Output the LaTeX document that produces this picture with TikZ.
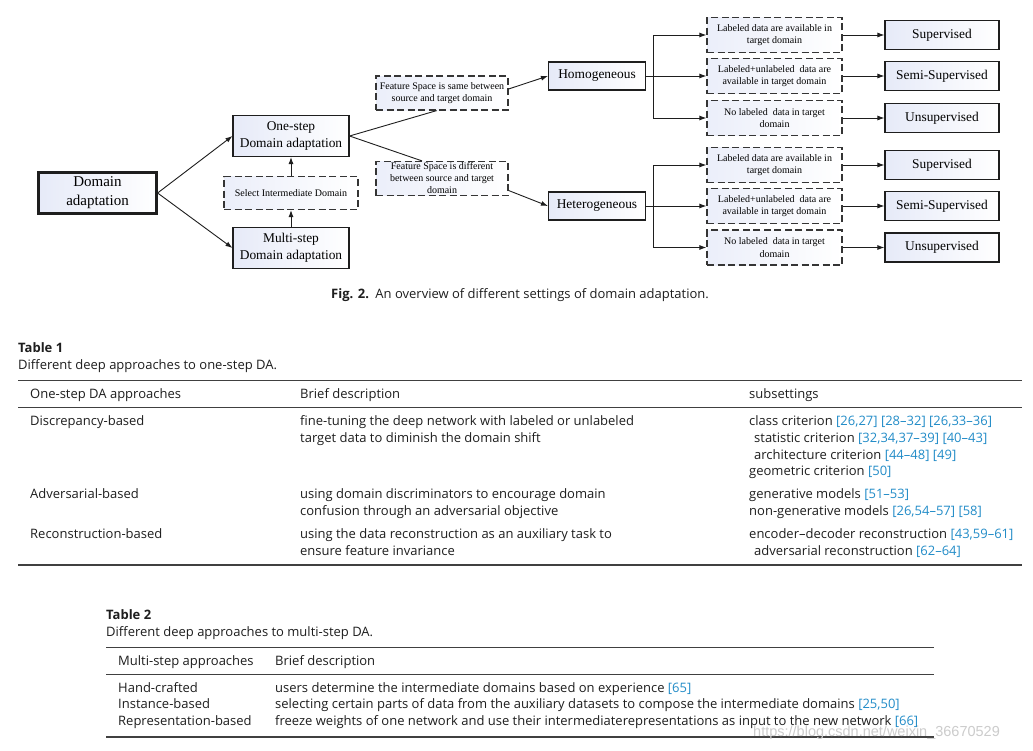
\documentclass[tikz,border=0pt]{standalone}
\usepackage{fontspec}
\setmainfont{Liberation Serif}
\newfontfamily\tabfont{Open Sans}
\newfontfamily\wmfont{Liberation Sans}
\usetikzlibrary{arrows.meta,calc}
\definecolor{citec}{RGB}{34,140,200}
\definecolor{boxl}{RGB}{230,234,248}
\definecolor{ink}{RGB}{30,30,30}
\newcommand{\cit}[1]{{\color{citec}#1}}
\newcommand{\tline}[4]{\node[tt] (#1) at (#2,#3+4.5) {#4};}
\begin{document}
\begin{tikzpicture}[x=1pt,y=-1pt,
  sbox/.style={draw=ink, line width=1.1pt, left color=boxl, right color=white, align=center,
    font=\fontsize{13.4}{16.5}\selectfont, inner sep=0pt},
  dbox/.style={draw=ink!90, line width=1.2pt, dash pattern=on 7pt off 3.5pt, left color=boxl!80, right color=white,
    align=center, font=\fontsize{10}{12.3}\selectfont, inner sep=0pt},
  arr/.style={-{Latex[length=7pt,width=5pt]}, line width=0.9pt, draw=ink},
  ln/.style={line width=0.9pt, draw=ink},
  tt/.style={anchor=base west, inner sep=0pt, text=ink, font=\tabfont\fontsize{13}{15}\selectfont},
  rule/.style={draw=ink!85, line width=1pt}]
\fill[white] (0,0) rectangle (1033,750);
\useasboundingbox (0,0) rectangle (1033,750);

% ---------- diagram ----------
\node[sbox, line width=2.2pt, minimum width=118, minimum height=41, font=\fontsize{15}{19}\selectfont] (da) at (97.5,193) {Domain\\adaptation};
\node[sbox, minimum width=116, minimum height=41] (one) at (291,136) {One-step\\Domain adaptation};
\node[dbox, minimum width=134, minimum height=33] (sel) at (291,193) {Select Intermediate Domain};
\node[sbox, minimum width=116, minimum height=41] (multi) at (291,248) {Multi-step\\Domain adaptation};

\node[dbox, minimum width=132, minimum height=34] (fs) at (442,93) {Feature Space is same between\\source and target domain};
\node[dbox, minimum width=132, minimum height=34, font=\fontsize{10}{12}\selectfont] (fd) at (442,178.5) {Feature Space is different\\between source and target\\domain};

\node[sbox, minimum width=97, minimum height=28] (homo) at (597,76) {Homogeneous};
\node[sbox, minimum width=97, minimum height=28] (hetero) at (597,206) {Heterogeneous};

\node[dbox, minimum width=135, minimum height=35] (h1) at (774.5,35) {Labeled data are available in\\target domain};
\node[dbox, minimum width=135, minimum height=35] (h2) at (774.5,76) {Labeled+unlabeled\ \ data are\\available in target domain};
\node[dbox, minimum width=135, minimum height=35] (h3) at (774.5,118) {No labeled\ \ data in target\\domain};
\node[dbox, minimum width=135, minimum height=35] (e1) at (774.5,165) {Labeled data are available in\\target domain};
\node[dbox, minimum width=135, minimum height=35] (e2) at (774.5,206) {Labeled+unlabeled\ \ data are\\available in target domain};
\node[dbox, minimum width=135, minimum height=35] (e3) at (774.5,247.5) {No labeled\ \ data in target\\domain};

\node[sbox, minimum width=114, minimum height=29] (r1) at (942,35) {Supervised};
\node[sbox, minimum width=114, minimum height=29] (r2) at (942,76) {Semi-Supervised};
\node[sbox, minimum width=114, minimum height=29] (r3) at (942,118) {Unsupervised};
\node[sbox, minimum width=114, minimum height=29] (s1) at (942,165) {Supervised};
\node[sbox, minimum width=114, minimum height=29] (s2) at (942,206) {Semi-Supervised};
\node[sbox, minimum width=114, minimum height=29] (s3) at (942,247.5) {Unsupervised};

\draw[arr] (da.east) -- (one.west);
\draw[arr] (da.east) -- (multi.west);
\draw[arr] (multi) -- (sel);
\draw[arr] (sel) -- (one);
\draw[ln] (one.east) -- ($(fs.south west)!0.46!(fs.south east)$);
\draw[ln] (one.east) -- ($(fd.north west)!0.35!(fd.north east)$);
\draw[arr] ([yshift=4pt]fs.east) -- (homo.west);
\draw[arr] ([yshift=-12pt]fd.east) -- (hetero.west);

\coordinate (hj) at (653,76);
\coordinate (ej) at (653,206);
\draw[ln] (homo.east) -- (hj);
\draw[arr] (hj) |- (h1.west);
\draw[arr] (hj) -- (h2.west);
\draw[arr] (hj) |- (h3.west);
\draw[ln] (hetero.east) -- (ej);
\draw[arr] (ej) |- (e1.west);
\draw[arr] (ej) -- (e2.west);
\draw[arr] (ej) |- (e3.west);
\draw[arr] (h1) -- (r1);
\draw[arr] (h2) -- (r2);
\draw[arr] (h3) -- (r3);
\draw[arr] (e1) -- (s1);
\draw[arr] (e2) -- (s2);
\draw[arr] (e3) -- (s3);

% ---------- caption ----------
\tline{cap}{331}{294}{\textbf{Fig. 2.}\enspace An overview of different settings of domain adaptation.}

% ---------- Table 1 ----------
\tline{t1t}{18}{348}{\textbf{Table 1}}
\tline{t1c}{18}{365}{Different deep approaches to one-step DA.}
\draw[rule] (18,380) -- (1022,380);
\draw[rule, line width=0.8pt] (18,407) -- (1022,407);
\draw[rule, line width=1.3pt] (18,565) -- (1022,565);
\tline{h1a}{30}{394}{One-step DA approaches}
\tline{h1b}{300}{394}{Brief description}
\tline{h1c}{749}{394}{subsettings}
\tline{a1}{30}{421}{Discrepancy-based}
\tline{b1}{300}{421}{fine-tuning the deep network with labeled or unlabeled}
\tline{b2}{300}{438}{target data to diminish the domain shift}
\tline{c1}{749}{421}{class criterion \cit{[26,27] [28–32] [26,33–36]}}
\tline{c2}{754}{438}{statistic criterion \cit{[32,34,37–39] [40–43]}}
\tline{c3}{754}{455}{architecture criterion \cit{[44–48] [49]}}
\tline{c4}{749}{471}{geometric criterion \cit{[50]}}
\tline{a2}{30}{494}{Adversarial-based}
\tline{b3}{300}{494}{using domain discriminators to encourage domain}
\tline{b4}{300}{511}{confusion through an adversarial objective}
\tline{c5}{749}{494}{generative models \cit{[51–53]}}
\tline{c6}{749}{511}{non-generative models \cit{[26,54–57] [58]}}
\tline{a3}{30}{534}{Reconstruction-based}
\tline{b5}{300}{534}{using the data reconstruction as an auxiliary task to}
\tline{b6}{300}{551}{ensure feature invariance}
\tline{c7}{749}{534}{encoder–decoder reconstruction \cit{[43,59–61]}}
\tline{c8}{754}{551}{adversarial reconstruction \cit{[62–64]}}

% ---------- Table 2 ----------
\tline{t2t}{106}{615}{\textbf{Table 2}}
\tline{t2c}{106}{632}{Different deep approaches to multi-step DA.}
\draw[rule] (106,647) -- (934,647);
\draw[rule, line width=0.8pt] (106,674) -- (934,674);
\draw[rule, line width=1.3pt] (106,737) -- (934,737);
\tline{m0a}{118}{661}{Multi-step approaches}
\tline{m0b}{275}{661}{Brief description}
\tline{m1a}{118}{688}{Hand-crafted}
\tline{m1b}{275}{688}{users determine the intermediate domains based on experience \cit{[65]}}
\tline{m2a}{118}{704}{Instance-based}
\tline{m2b}{275}{704}{selecting certain parts of data from the auxiliary datasets to compose the intermediate domains \cit{[25,50]}}
\tline{m3a}{118}{721}{Representation-based}
\tline{m3b}{275}{721}{freeze weights of one network and use their intermediaterepresentations as input to the new network \cit{[66]}}

% ---------- watermark ----------
\node[anchor=west, inner sep=0pt, text=black!20, font=\wmfont\fontsize{14.5}{16}\selectfont] (wm) at (753,733) {https://blog.csdn.net/weixin\_36670529};
\end{tikzpicture}
\end{document}
